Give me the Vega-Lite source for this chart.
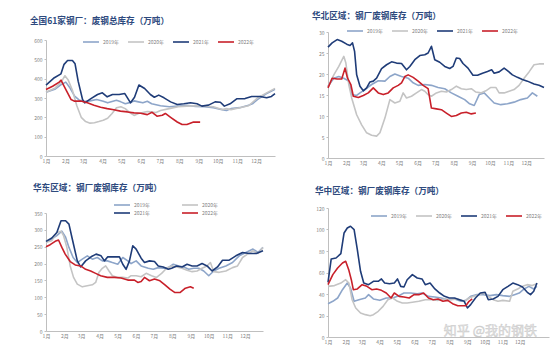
{
  "$schema": "https://vega.github.io/schema/vega-lite/v6.json",
  "padding": {"left": 30, "top": 12, "right": 2, "bottom": 2},
  "config": {
    "font": "Noto Sans CJK SC",
    "view": {"stroke": null},
    "axis": {"grid": false, "labelColor": "#808080", "labelFontSize": 5, "domainColor": "#BFBFBF", "tickColor": "#BFBFBF", "labelPadding": 2, "labelOverlap": false},
    "axisX": {"ticks": false, "labelFlush": false},
    "axisY": {"tickSize": 2},
    "legend": {"symbolType": "M-2,0H2", "labelFontSize": 5, "labelColor": "#808080", "symbolSize": 64, "symbolStrokeWidth": 2.2, "columnPadding": 7, "labelOffset": 7, "padding": 0, "direction": "horizontal", "orient": "none"},
    "title": {"anchor": "start", "frame": "group", "fontSize": 8.6, "fontWeight": "bold", "color": "#2E4A7E", "font": "Noto Sans CJK SC"},
    "line": {"strokeJoin": "round"}
  },
  "datasets": {
    "p1": [
      {"s":"2019年","w":0,"v":330},{"s":"2019年","w":2,"v":345},{"s":"2019年","w":3.5,"v":370},{"s":"2019年","w":4.5,"v":382},{"s":"2019年","w":5.5,"v":350},{"s":"2019年","w":6.5,"v":310},{"s":"2019年","w":7.5,"v":290},{"s":"2019年","w":8.5,"v":282},{"s":"2019年","w":10,"v":285},{"s":"2019年","w":11.5,"v":292},{"s":"2019年","w":13,"v":283},{"s":"2019年","w":14,"v":275},{"s":"2019年","w":15,"v":282},{"s":"2019年","w":16,"v":288},{"s":"2019年","w":17,"v":280},{"s":"2019年","w":18,"v":270},{"s":"2019年","w":19,"v":276},{"s":"2019年","w":20,"v":285},{"s":"2019年","w":21,"v":280},{"s":"2019年","w":22,"v":275},{"s":"2019年","w":23,"v":283},{"s":"2019年","w":24,"v":270},{"s":"2019年","w":25,"v":265},{"s":"2019年","w":26,"v":260},{"s":"2019年","w":28,"v":255},{"s":"2019年","w":30,"v":258},{"s":"2019年","w":32,"v":262},{"s":"2019年","w":34,"v":256},{"s":"2019年","w":36,"v":255},{"s":"2019年","w":38,"v":250},{"s":"2019年","w":40,"v":240},{"s":"2019年","w":41,"v":235},{"s":"2019年","w":42,"v":245},{"s":"2019年","w":44,"v":250},{"s":"2019年","w":46,"v":262},{"s":"2019年","w":47,"v":272},{"s":"2019年","w":48,"v":292},{"s":"2019年","w":50,"v":322},{"s":"2019年","w":52,"v":345},
      {"s":"2020年","w":0,"v":330},{"s":"2020年","w":2,"v":350},{"s":"2020年","w":3.5,"v":385},{"s":"2020年","w":4.3,"v":415},{"s":"2020年","w":5,"v":395},{"s":"2020年","w":6,"v":340},{"s":"2020年","w":7,"v":260},{"s":"2020年","w":8,"v":200},{"s":"2020年","w":9,"v":178},{"s":"2020年","w":10,"v":170},{"s":"2020年","w":11,"v":172},{"s":"2020年","w":12,"v":178},{"s":"2020年","w":13,"v":185},{"s":"2020年","w":14,"v":195},{"s":"2020年","w":15,"v":220},{"s":"2020年","w":16,"v":250},{"s":"2020年","w":17,"v":255},{"s":"2020年","w":18,"v":245},{"s":"2020年","w":19,"v":225},{"s":"2020年","w":20,"v":210},{"s":"2020年","w":21,"v":220},{"s":"2020年","w":22,"v":225},{"s":"2020年","w":23,"v":230},{"s":"2020年","w":24,"v":228},{"s":"2020年","w":25,"v":225},{"s":"2020年","w":26,"v":235},{"s":"2020年","w":28,"v":245},{"s":"2020年","w":30,"v":255},{"s":"2020年","w":32,"v":258},{"s":"2020年","w":34,"v":260},{"s":"2020年","w":36,"v":258},{"s":"2020年","w":38,"v":255},{"s":"2020年","w":40,"v":240},{"s":"2020年","w":41,"v":245},{"s":"2020年","w":42,"v":240},{"s":"2020年","w":44,"v":250},{"s":"2020年","w":46,"v":260},{"s":"2020年","w":48,"v":300},{"s":"2020年","w":50,"v":325},{"s":"2020年","w":52,"v":350},
      {"s":"2021年","w":0,"v":367},{"s":"2021年","w":1.9,"v":405},{"s":"2021年","w":3.4,"v":425},{"s":"2021年","w":4.1,"v":474},{"s":"2021年","w":4.9,"v":494},{"s":"2021年","w":6,"v":494},{"s":"2021年","w":6.6,"v":477},{"s":"2021年","w":7.3,"v":387},{"s":"2021年","w":8.3,"v":292},{"s":"2021年","w":8.8,"v":275},{"s":"2021年","w":10.2,"v":297},{"s":"2021年","w":11.7,"v":318},{"s":"2021年","w":12.8,"v":327},{"s":"2021年","w":13.9,"v":306},{"s":"2021年","w":15.1,"v":318},{"s":"2021年","w":16.6,"v":318},{"s":"2021年","w":17.9,"v":323},{"s":"2021年","w":19.2,"v":275},{"s":"2021年","w":20.1,"v":304},{"s":"2021年","w":21.1,"v":367},{"s":"2021年","w":22.4,"v":349},{"s":"2021年","w":23.7,"v":318},{"s":"2021年","w":24.6,"v":304},{"s":"2021年","w":25.6,"v":315},{"s":"2021年","w":26.8,"v":301},{"s":"2021年","w":28.3,"v":280},{"s":"2021年","w":29.8,"v":266},{"s":"2021年","w":31.3,"v":270},{"s":"2021年","w":32.8,"v":275},{"s":"2021年","w":34.3,"v":270},{"s":"2021年","w":35.4,"v":258},{"s":"2021年","w":36.9,"v":263},{"s":"2021年","w":38.4,"v":280},{"s":"2021年","w":39.6,"v":278},{"s":"2021年","w":40.5,"v":258},{"s":"2021年","w":41.8,"v":270},{"s":"2021年","w":43.3,"v":296},{"s":"2021年","w":45.2,"v":297},{"s":"2021年","w":46.7,"v":308},{"s":"2021年","w":48.6,"v":308},{"s":"2021年","w":50.1,"v":301},{"s":"2021年","w":51.2,"v":308},{"s":"2021年","w":52,"v":323},
      {"s":"2022年","w":0,"v":344},{"s":"2022年","w":1.5,"v":361},{"s":"2022年","w":3,"v":382},{"s":"2022年","w":3.4,"v":392},{"s":"2022年","w":4.1,"v":361},{"s":"2022年","w":4.9,"v":327},{"s":"2022年","w":5.7,"v":292},{"s":"2022年","w":6.4,"v":284},{"s":"2022年","w":7.9,"v":284},{"s":"2022年","w":9.4,"v":275},{"s":"2022年","w":10.9,"v":263},{"s":"2022年","w":12.4,"v":252},{"s":"2022年","w":13.9,"v":245},{"s":"2022年","w":15.4,"v":239},{"s":"2022年","w":16.9,"v":232},{"s":"2022年","w":18.5,"v":228},{"s":"2022年","w":20,"v":223},{"s":"2022年","w":21.5,"v":221},{"s":"2022年","w":23,"v":214},{"s":"2022年","w":24.1,"v":226},{"s":"2022年","w":25.2,"v":206},{"s":"2022年","w":26.4,"v":211},{"s":"2022年","w":27.1,"v":220},{"s":"2022年","w":28.3,"v":200},{"s":"2022年","w":29.8,"v":176},{"s":"2022年","w":30.9,"v":163},{"s":"2022年","w":32,"v":163},{"s":"2022年","w":33.5,"v":176},{"s":"2022年","w":35,"v":175}
    ],
    "p2": [
      {"s":"2019年","w":0,"v":17.1},{"s":"2019年","w":1.4,"v":19},{"s":"2019年","w":2.6,"v":19.4},{"s":"2019年","w":3.8,"v":19},{"s":"2019年","w":5,"v":18.3},{"s":"2019年","w":5.7,"v":15.1},{"s":"2019年","w":6.9,"v":14.9},{"s":"2019年","w":7.7,"v":15.5},{"s":"2019年","w":8.9,"v":16.3},{"s":"2019年","w":10.5,"v":17.5},{"s":"2019年","w":12.1,"v":18.4},{"s":"2019年","w":13.7,"v":18.3},{"s":"2019年","w":14.9,"v":19.4},{"s":"2019年","w":16.1,"v":20},{"s":"2019年","w":17.7,"v":19.4},{"s":"2019年","w":19.3,"v":19},{"s":"2019年","w":20.5,"v":17.9},{"s":"2019年","w":21.7,"v":17.3},{"s":"2019年","w":23.3,"v":17.5},{"s":"2019年","w":24.9,"v":17.3},{"s":"2019年","w":26.5,"v":16.8},{"s":"2019年","w":28.1,"v":16.5},{"s":"2019年","w":29.7,"v":15.5},{"s":"2019年","w":31.3,"v":14.7},{"s":"2019年","w":32.9,"v":13.9},{"s":"2019年","w":34.1,"v":12.9},{"s":"2019年","w":35.2,"v":12.5},{"s":"2019年","w":36.4,"v":15.1},{"s":"2019年","w":37.6,"v":15.5},{"s":"2019年","w":38.8,"v":14.3},{"s":"2019年","w":40,"v":13.1},{"s":"2019年","w":41.6,"v":12.7},{"s":"2019年","w":43.2,"v":12.9},{"s":"2019年","w":44.8,"v":13.3},{"s":"2019年","w":46.4,"v":13.9},{"s":"2019年","w":48,"v":14.3},{"s":"2019年","w":49.2,"v":15.5},{"s":"2019年","w":50.4,"v":14.7},
      {"s":"2020年","w":0,"v":16.8},{"s":"2020年","w":1.4,"v":19.8},{"s":"2020年","w":2.6,"v":21.8},{"s":"2020年","w":3.8,"v":24.2},{"s":"2020年","w":4.3,"v":22.6},{"s":"2020年","w":5,"v":17.5},{"s":"2020年","w":5.7,"v":14.3},{"s":"2020年","w":6.9,"v":10.3},{"s":"2020年","w":8.1,"v":7.9},{"s":"2020年","w":9.3,"v":6},{"s":"2020年","w":10.5,"v":5.4},{"s":"2020年","w":11.7,"v":5.2},{"s":"2020年","w":12.5,"v":6},{"s":"2020年","w":13.7,"v":9.5},{"s":"2020年","w":14.9,"v":13.9},{"s":"2020年","w":16.1,"v":13.1},{"s":"2020年","w":17.3,"v":13.5},{"s":"2020年","w":18.1,"v":15.5},{"s":"2020年","w":18.9,"v":14.3},{"s":"2020年","w":20.1,"v":14.7},{"s":"2020年","w":21.3,"v":15.5},{"s":"2020年","w":22.5,"v":16.3},{"s":"2020年","w":23.3,"v":15.9},{"s":"2020年","w":24.1,"v":15.1},{"s":"2020年","w":24.9,"v":14.7},{"s":"2020年","w":26.1,"v":15.5},{"s":"2020年","w":27.3,"v":15.9},{"s":"2020年","w":28.5,"v":15.7},{"s":"2020年","w":29.7,"v":16.3},{"s":"2020年","w":30.9,"v":17.1},{"s":"2020年","w":32.1,"v":16.5},{"s":"2020年","w":33.3,"v":16.3},{"s":"2020年","w":34.5,"v":16.5},{"s":"2020年","w":35.6,"v":15.7},{"s":"2020年","w":36.8,"v":15.5},{"s":"2020年","w":38,"v":16},{"s":"2020年","w":39.2,"v":16.8},{"s":"2020年","w":40.4,"v":16.8},{"s":"2020年","w":41.2,"v":15.5},{"s":"2020年","w":42.4,"v":15.5},{"s":"2020年","w":43.6,"v":15.9},{"s":"2020年","w":44.8,"v":16.3},{"s":"2020年","w":46,"v":17.3},{"s":"2020年","w":47.2,"v":19},{"s":"2020年","w":48.4,"v":20.5},{"s":"2020年","w":49.6,"v":22.2},{"s":"2020年","w":50.8,"v":22.4},{"s":"2020年","w":52,"v":22.4},
      {"s":"2021年","w":0,"v":26.4},{"s":"2021年","w":1,"v":27.4},{"s":"2021年","w":2.2,"v":28.2},{"s":"2021年","w":3.3,"v":27.8},{"s":"2021年","w":4.5,"v":27.1},{"s":"2021年","w":5.3,"v":26.8},{"s":"2021年","w":5.9,"v":27.4},{"s":"2021年","w":6.4,"v":25.4},{"s":"2021年","w":6.9,"v":19.8},{"s":"2021年","w":7.7,"v":17.1},{"s":"2021年","w":8.5,"v":16},{"s":"2021年","w":9.3,"v":16.7},{"s":"2021年","w":10.1,"v":18.1},{"s":"2021年","w":10.9,"v":18.3},{"s":"2021年","w":11.7,"v":19},{"s":"2021年","w":12.9,"v":21.3},{"s":"2021年","w":14.1,"v":22.2},{"s":"2021年","w":15.3,"v":22.9},{"s":"2021年","w":16.5,"v":22.6},{"s":"2021年","w":17.7,"v":22.5},{"s":"2021年","w":18.9,"v":21},{"s":"2021年","w":19.7,"v":21.8},{"s":"2021年","w":20.9,"v":23.4},{"s":"2021年","w":22.1,"v":24.4},{"s":"2021年","w":23.3,"v":24.6},{"s":"2021年","w":24.1,"v":25},{"s":"2021年","w":24.9,"v":26.6},{"s":"2021年","w":25.7,"v":23.4},{"s":"2021年","w":26.9,"v":22.8},{"s":"2021年","w":28.1,"v":21.8},{"s":"2021年","w":29.3,"v":21.3},{"s":"2021年","w":30.1,"v":21.8},{"s":"2021年","w":30.9,"v":23.8},{"s":"2021年","w":31.7,"v":23.7},{"s":"2021年","w":32.5,"v":22.5},{"s":"2021年","w":33.7,"v":21.4},{"s":"2021年","w":34.9,"v":19.7},{"s":"2021年","w":36,"v":19.7},{"s":"2021年","w":37.2,"v":20.2},{"s":"2021年","w":38.4,"v":20.6},{"s":"2021年","w":39.4,"v":21},{"s":"2021年","w":40,"v":20.2},{"s":"2021年","w":41.2,"v":20.5},{"s":"2021年","w":42.4,"v":21.4},{"s":"2021年","w":43.2,"v":20.8},{"s":"2021年","w":44.4,"v":19.8},{"s":"2021年","w":45.6,"v":19.2},{"s":"2021年","w":46.8,"v":18.7},{"s":"2021年","w":48,"v":18.3},{"s":"2021年","w":49.6,"v":17.6},{"s":"2021年","w":50.8,"v":17.3},{"s":"2021年","w":52,"v":16.8},
      {"s":"2022年","w":0,"v":16.7},{"s":"2022年","w":1,"v":19},{"s":"2022年","w":2.2,"v":18.8},{"s":"2022年","w":3.3,"v":18.8},{"s":"2022年","w":4.1,"v":21.4},{"s":"2022年","w":4.7,"v":19},{"s":"2022年","w":5.5,"v":17.5},{"s":"2022年","w":6.1,"v":14.7},{"s":"2022年","w":7.3,"v":14.4},{"s":"2022年","w":8.5,"v":14.9},{"s":"2022年","w":9.7,"v":15.5},{"s":"2022年","w":10.9,"v":16.7},{"s":"2022年","w":12.1,"v":15.5},{"s":"2022年","w":13.3,"v":15.1},{"s":"2022年","w":14.5,"v":15.5},{"s":"2022年","w":15.7,"v":16.7},{"s":"2022年","w":16.9,"v":17.3},{"s":"2022年","w":17.7,"v":17.9},{"s":"2022年","w":18.5,"v":19.4},{"s":"2022年","w":19.3,"v":19.8},{"s":"2022年","w":20.5,"v":19.2},{"s":"2022年","w":21.7,"v":18.3},{"s":"2022年","w":22.9,"v":17.3},{"s":"2022年","w":24.1,"v":16.5},{"s":"2022年","w":24.9,"v":11.9},{"s":"2022年","w":26.1,"v":11.7},{"s":"2022年","w":27.3,"v":11.5},{"s":"2022年","w":28.5,"v":10.7},{"s":"2022年","w":29.7,"v":9.9},{"s":"2022年","w":30.9,"v":10.1},{"s":"2022年","w":32.1,"v":10.7},{"s":"2022年","w":33.3,"v":10.9},{"s":"2022年","w":34.5,"v":10.5},{"s":"2022年","w":35.6,"v":10.7}
    ],
    "p3": [
      {"s":"2019年","w":0,"v":263},{"s":"2019年","w":1.4,"v":273},{"s":"2019年","w":2.6,"v":283},{"s":"2019年","w":3.8,"v":296},{"s":"2019年","w":4.7,"v":278},{"s":"2019年","w":5.5,"v":248},{"s":"2019年","w":6.5,"v":218},{"s":"2019年","w":7.5,"v":203},{"s":"2019年","w":8.7,"v":213},{"s":"2019年","w":9.9,"v":223},{"s":"2019年","w":11.1,"v":213},{"s":"2019年","w":12.3,"v":218},{"s":"2019年","w":13.5,"v":208},{"s":"2019年","w":14.7,"v":208},{"s":"2019年","w":15.9,"v":203},{"s":"2019年","w":17.2,"v":198},{"s":"2019年","w":18.4,"v":218},{"s":"2019年","w":19.6,"v":208},{"s":"2019年","w":20.4,"v":200},{"s":"2019年","w":21.6,"v":208},{"s":"2019年","w":22.8,"v":193},{"s":"2019年","w":24.5,"v":186},{"s":"2019年","w":25.7,"v":183},{"s":"2019年","w":26.9,"v":188},{"s":"2019年","w":28.1,"v":186},{"s":"2019年","w":29.3,"v":188},{"s":"2019年","w":30.5,"v":198},{"s":"2019年","w":31.8,"v":193},{"s":"2019年","w":33,"v":190},{"s":"2019年","w":34.2,"v":183},{"s":"2019年","w":35.4,"v":186},{"s":"2019年","w":36.6,"v":186},{"s":"2019年","w":37.8,"v":178},{"s":"2019年","w":39,"v":164},{"s":"2019年","w":40.2,"v":178},{"s":"2019年","w":41.5,"v":186},{"s":"2019年","w":43.1,"v":193},{"s":"2019年","w":44.7,"v":203},{"s":"2019年","w":46.3,"v":223},{"s":"2019年","w":47.9,"v":233},{"s":"2019年","w":49.6,"v":243},{"s":"2019年","w":50.8,"v":233},{"s":"2019年","w":52,"v":248},
      {"s":"2020年","w":0,"v":263},{"s":"2020年","w":1.4,"v":268},{"s":"2020年","w":2.6,"v":292},{"s":"2020年","w":3.6,"v":296},{"s":"2020年","w":4.2,"v":283},{"s":"2020年","w":5,"v":248},{"s":"2020年","w":5.8,"v":193},{"s":"2020年","w":6.6,"v":159},{"s":"2020年","w":7.5,"v":139},{"s":"2020年","w":8.7,"v":131},{"s":"2020年","w":9.9,"v":134},{"s":"2020年","w":11.1,"v":137},{"s":"2020年","w":11.9,"v":144},{"s":"2020年","w":12.7,"v":174},{"s":"2020年","w":13.5,"v":186},{"s":"2020年","w":14.3,"v":193},{"s":"2020年","w":15.1,"v":178},{"s":"2020年","w":15.9,"v":164},{"s":"2020年","w":17.2,"v":159},{"s":"2020年","w":18.4,"v":159},{"s":"2020年","w":19.6,"v":157},{"s":"2020年","w":20.4,"v":164},{"s":"2020年","w":21.6,"v":164},{"s":"2020年","w":22.8,"v":161},{"s":"2020年","w":24,"v":171},{"s":"2020年","w":25.3,"v":164},{"s":"2020年","w":26.5,"v":159},{"s":"2020年","w":27.7,"v":171},{"s":"2020年","w":28.9,"v":186},{"s":"2020年","w":30.1,"v":193},{"s":"2020年","w":31.3,"v":190},{"s":"2020年","w":32.6,"v":186},{"s":"2020年","w":33.8,"v":180},{"s":"2020年","w":35,"v":176},{"s":"2020年","w":36.2,"v":178},{"s":"2020年","w":37.4,"v":186},{"s":"2020年","w":38.6,"v":193},{"s":"2020年","w":39.4,"v":203},{"s":"2020年","w":40.2,"v":176},{"s":"2020年","w":41.5,"v":174},{"s":"2020年","w":43.1,"v":178},{"s":"2020年","w":44.7,"v":188},{"s":"2020年","w":45.9,"v":193},{"s":"2020年","w":47.1,"v":218},{"s":"2020年","w":48.3,"v":228},{"s":"2020年","w":49.6,"v":238},{"s":"2020年","w":50.8,"v":230},{"s":"2020年","w":52,"v":248},
      {"s":"2021年","w":0,"v":266},{"s":"2021年","w":1.4,"v":276},{"s":"2021年","w":2.6,"v":292},{"s":"2021年","w":3.6,"v":327},{"s":"2021年","w":4.7,"v":327},{"s":"2021年","w":5.5,"v":317},{"s":"2021年","w":6.3,"v":273},{"s":"2021年","w":7.5,"v":208},{"s":"2021年","w":8.3,"v":190},{"s":"2021年","w":9.5,"v":208},{"s":"2021年","w":10.8,"v":220},{"s":"2021年","w":12,"v":228},{"s":"2021年","w":13.2,"v":223},{"s":"2021年","w":14,"v":208},{"s":"2021年","w":14.8,"v":220},{"s":"2021年","w":16.4,"v":220},{"s":"2021年","w":17.6,"v":220},{"s":"2021年","w":18.4,"v":198},{"s":"2021年","w":19.2,"v":183},{"s":"2021年","w":20,"v":208},{"s":"2021年","w":20.8,"v":253},{"s":"2021年","w":21.6,"v":243},{"s":"2021年","w":22.8,"v":216},{"s":"2021年","w":23.6,"v":203},{"s":"2021年","w":24.8,"v":208},{"s":"2021年","w":26,"v":206},{"s":"2021年","w":26.9,"v":193},{"s":"2021年","w":28.1,"v":190},{"s":"2021年","w":29.3,"v":183},{"s":"2021年","w":30.1,"v":186},{"s":"2021年","w":31.3,"v":193},{"s":"2021年","w":32.6,"v":190},{"s":"2021年","w":33.8,"v":198},{"s":"2021年","w":35,"v":193},{"s":"2021年","w":36.2,"v":193},{"s":"2021年","w":37.4,"v":200},{"s":"2021年","w":38.6,"v":193},{"s":"2021年","w":39.8,"v":178},{"s":"2021年","w":41.1,"v":190},{"s":"2021年","w":42.3,"v":210},{"s":"2021年","w":43.9,"v":210},{"s":"2021年","w":45.5,"v":223},{"s":"2021年","w":47.1,"v":233},{"s":"2021年","w":48.7,"v":230},{"s":"2021年","w":50.4,"v":230},{"s":"2021年","w":52,"v":238},
      {"s":"2022年","w":0,"v":250},{"s":"2022年","w":1,"v":256},{"s":"2022年","w":2.2,"v":266},{"s":"2022年","w":3,"v":270},{"s":"2022年","w":3.8,"v":248},{"s":"2022年","w":4.6,"v":228},{"s":"2022年","w":5.8,"v":206},{"s":"2022年","w":7,"v":196},{"s":"2022年","w":8.3,"v":193},{"s":"2022年","w":9.5,"v":183},{"s":"2022年","w":10.7,"v":178},{"s":"2022年","w":11.9,"v":171},{"s":"2022年","w":13.1,"v":164},{"s":"2022年","w":14.7,"v":159},{"s":"2022年","w":16.4,"v":159},{"s":"2022年","w":18,"v":157},{"s":"2022年","w":19.6,"v":151},{"s":"2022年","w":21.2,"v":151},{"s":"2022年","w":22,"v":144},{"s":"2022年","w":22.8,"v":147},{"s":"2022年","w":23.6,"v":159},{"s":"2022年","w":24.8,"v":149},{"s":"2022年","w":26,"v":154},{"s":"2022年","w":27.3,"v":149},{"s":"2022年","w":28.5,"v":137},{"s":"2022年","w":29.7,"v":124},{"s":"2022年","w":30.9,"v":114},{"s":"2022年","w":32.1,"v":114},{"s":"2022年","w":33.4,"v":127},{"s":"2022年","w":34.6,"v":131},{"s":"2022年","w":35.4,"v":127}
    ],
    "p4": [
      {"s":"2019年","w":0,"v":31},{"s":"2019年","w":1.2,"v":33.2},{"s":"2019年","w":2.4,"v":36.3},{"s":"2019年","w":3.6,"v":44},{"s":"2019年","w":4.8,"v":50.2},{"s":"2019年","w":5.6,"v":45.6},{"s":"2019年","w":6.5,"v":33.2},{"s":"2019年","w":7.7,"v":34.7},{"s":"2019年","w":9.3,"v":36.3},{"s":"2019年","w":10.1,"v":39.4},{"s":"2019年","w":11.3,"v":35.4},{"s":"2019年","w":12.9,"v":34.1},{"s":"2019年","w":14.5,"v":36.3},{"s":"2019年","w":16.1,"v":36.3},{"s":"2019年","w":17.3,"v":37.8},{"s":"2019年","w":18.9,"v":40.9},{"s":"2019年","w":20.6,"v":40.9},{"s":"2019年","w":22.2,"v":40.3},{"s":"2019年","w":23.4,"v":40.9},{"s":"2019年","w":25,"v":37.8},{"s":"2019年","w":26.6,"v":37.2},{"s":"2019年","w":28.2,"v":36.3},{"s":"2019年","w":29.8,"v":34.7},{"s":"2019年","w":31.5,"v":35.4},{"s":"2019年","w":33.1,"v":33.2},{"s":"2019年","w":34.3,"v":34.1},{"s":"2019年","w":35.5,"v":37.8},{"s":"2019年","w":37.1,"v":39.4},{"s":"2019年","w":38.7,"v":39.4},{"s":"2019年","w":40.3,"v":38.5},{"s":"2019年","w":41.9,"v":39.4},{"s":"2019年","w":43.5,"v":38.5},{"s":"2019年","w":45.2,"v":37.8},{"s":"2019年","w":46.4,"v":39.4},{"s":"2019年","w":47.6,"v":40.9},{"s":"2019年","w":48.8,"v":44.7},{"s":"2019年","w":50,"v":47.1},{"s":"2019年","w":51.2,"v":44.7},{"s":"2019年","w":52,"v":47.1},
      {"s":"2020年","w":0,"v":47.1},{"s":"2020年","w":1.6,"v":47.8},{"s":"2020年","w":3.2,"v":50.2},{"s":"2020年","w":4.4,"v":53.3},{"s":"2020年","w":5.2,"v":50.2},{"s":"2020年","w":6,"v":34.7},{"s":"2020年","w":6.9,"v":27},{"s":"2020年","w":8.1,"v":22.3},{"s":"2020年","w":9.3,"v":20.8},{"s":"2020年","w":10.5,"v":19.8},{"s":"2020年","w":11.3,"v":20.8},{"s":"2020年","w":12.5,"v":23.9},{"s":"2020年","w":13.7,"v":28.5},{"s":"2020年","w":14.9,"v":34.7},{"s":"2020年","w":16.1,"v":36.3},{"s":"2020年","w":17.3,"v":33.2},{"s":"2020年","w":18.5,"v":31.6},{"s":"2020年","w":19.7,"v":31.6},{"s":"2020年","w":21,"v":32.3},{"s":"2020年","w":22.6,"v":33.2},{"s":"2020年","w":24.2,"v":34.7},{"s":"2020年","w":25.8,"v":34.7},{"s":"2020年","w":27.4,"v":34.1},{"s":"2020年","w":29,"v":35.4},{"s":"2020年","w":30.6,"v":34.7},{"s":"2020年","w":32.3,"v":35.4},{"s":"2020年","w":33.9,"v":33.2},{"s":"2020年","w":35.1,"v":36.3},{"s":"2020年","w":36.3,"v":37.8},{"s":"2020年","w":37.5,"v":39.4},{"s":"2020年","w":38.7,"v":40.9},{"s":"2020年","w":39.9,"v":37.8},{"s":"2020年","w":41.1,"v":34.7},{"s":"2020年","w":42.3,"v":33.2},{"s":"2020年","w":43.5,"v":34.1},{"s":"2020年","w":45.2,"v":33.2},{"s":"2020年","w":46,"v":42.5},{"s":"2020年","w":47.2,"v":44.7},{"s":"2020年","w":48.4,"v":47.1},{"s":"2020年","w":49.6,"v":48.7},{"s":"2020年","w":50.8,"v":47.8},{"s":"2020年","w":52,"v":49.6},
      {"s":"2021年","w":0,"v":50.9},{"s":"2021年","w":0.8,"v":72.6},{"s":"2021年","w":2,"v":73.5},{"s":"2021年","w":3.2,"v":77.5},{"s":"2021年","w":4,"v":96.8},{"s":"2021年","w":4.8,"v":101.4},{"s":"2021年","w":5.6,"v":103},{"s":"2021年","w":6.5,"v":99.9},{"s":"2021年","w":7.3,"v":81.2},{"s":"2021年","w":8.1,"v":61.1},{"s":"2021年","w":8.9,"v":50.2},{"s":"2021年","w":10.1,"v":48.7},{"s":"2021年","w":11.3,"v":51.8},{"s":"2021年","w":12.5,"v":51.8},{"s":"2021年","w":13.3,"v":54},{"s":"2021年","w":14.1,"v":50.2},{"s":"2021年","w":15.3,"v":49.6},{"s":"2021年","w":16.5,"v":50.2},{"s":"2021年","w":17.3,"v":54},{"s":"2021年","w":18.1,"v":47.1},{"s":"2021年","w":18.9,"v":46.5},{"s":"2021年","w":19.7,"v":53.3},{"s":"2021年","w":21,"v":58},{"s":"2021年","w":22.2,"v":54.9},{"s":"2021年","w":23.4,"v":54},{"s":"2021年","w":24.2,"v":48.7},{"s":"2021年","w":25.4,"v":50.2},{"s":"2021年","w":26.6,"v":44.7},{"s":"2021年","w":27.8,"v":40.9},{"s":"2021年","w":29,"v":37.8},{"s":"2021年","w":30.2,"v":36.3},{"s":"2021年","w":31.5,"v":36.3},{"s":"2021年","w":32.7,"v":34.7},{"s":"2021年","w":33.9,"v":33.2},{"s":"2021年","w":34.7,"v":27},{"s":"2021年","w":35.5,"v":30.1},{"s":"2021年","w":36.7,"v":36.3},{"s":"2021年","w":37.9,"v":40.9},{"s":"2021年","w":39.1,"v":41.6},{"s":"2021年","w":39.9,"v":34.7},{"s":"2021年","w":41.1,"v":35.4},{"s":"2021年","w":42.3,"v":37.8},{"s":"2021年","w":43.5,"v":44},{"s":"2021年","w":44.8,"v":47.1},{"s":"2021年","w":46,"v":50.2},{"s":"2021年","w":47.2,"v":48.7},{"s":"2021年","w":48.4,"v":46.5},{"s":"2021年","w":49.6,"v":41.6},{"s":"2021年","w":50.4,"v":39.4},{"s":"2021年","w":51.2,"v":42.5},{"s":"2021年","w":52,"v":50.2},
      {"s":"2022年","w":0,"v":48.7},{"s":"2022年","w":1.2,"v":58},{"s":"2022年","w":2.4,"v":64.2},{"s":"2022年","w":3.6,"v":68.8},{"s":"2022年","w":4.4,"v":70.4},{"s":"2022年","w":5.2,"v":62},{"s":"2022年","w":5.8,"v":53.3},{"s":"2022年","w":6.3,"v":44},{"s":"2022年","w":7.3,"v":44.7},{"s":"2022年","w":8.5,"v":48.7},{"s":"2022年","w":9.7,"v":47.1},{"s":"2022年","w":10.9,"v":44},{"s":"2022年","w":12.1,"v":44.7},{"s":"2022年","w":13.3,"v":43.4},{"s":"2022年","w":14.5,"v":40.9},{"s":"2022年","w":15.7,"v":36.3},{"s":"2022年","w":16.5,"v":40.9},{"s":"2022年","w":17.7,"v":37.8},{"s":"2022年","w":18.9,"v":37.2},{"s":"2022年","w":20.2,"v":36.3},{"s":"2022年","w":21.4,"v":39.4},{"s":"2022年","w":22.6,"v":39.4},{"s":"2022年","w":23.8,"v":40.9},{"s":"2022年","w":25,"v":36.3},{"s":"2022年","w":26.2,"v":34.7},{"s":"2022年","w":27.4,"v":35.4},{"s":"2022年","w":28.6,"v":33.2},{"s":"2022年","w":29.8,"v":34.1},{"s":"2022年","w":31,"v":31},{"s":"2022年","w":32.3,"v":29.1},{"s":"2022年","w":33.5,"v":29.1},{"s":"2022年","w":34.3,"v":29.1},{"s":"2022年","w":35.1,"v":33.2},{"s":"2022年","w":35.9,"v":35.4}
    ]
  },
  "align": "none",
  "spacing": 36,
  "resolve": {"scale": {"color": "independent", "strokeWidth": "independent"}, "legend": {"color": "independent", "strokeWidth": "independent"}},
  "hconcat": [
    {
      "spacing": 21,
      "resolve": {"scale": {"color": "independent", "strokeWidth": "independent"}, "legend": {"color": "independent", "strokeWidth": "independent"}},
      "vconcat": [
        {
          "width": 229, "height": 124,
          "title": {"text": "全国61家钢厂：废钢总库存（万吨）", "offset": 6, "dx": -16},
          "data": {"name": "p1"},
          "mark": {"type": "line"},
          "encoding": {
            "x": {"field": "w", "type": "quantitative", "title": null, "scale": {"domain": [0, 52]}, "axis": {"values": [0, 4.43, 8.43, 12.86, 17.14, 21.57, 25.86, 30.29, 34.71, 39, 43.43, 47.71], "labelExpr": "(indexof([0,4,8,13,17,22,26,30,35,39,43,48], round(datum.value)) + 1) + '月'"}},
            "y": {"field": "v", "type": "quantitative", "title": null, "scale": {"domain": [0, 600], "range": [124, 8]}, "axis": {"values": [0, 100, 200, 300, 400, 500, 600]}},
            "color": {"field": "s", "type": "nominal", "title": null, "scale": {"domain": ["2019年", "2020年", "2021年", "2022年"], "range": ["#8DA5C9", "#C4C4C4", "#1F3C78", "#C8202A"]}, "legend": {"legendX": 40, "legendY": 5, "columns": 4}},
            "strokeWidth": {"field": "s", "type": "ordinal", "scale": {"domain": ["2019年", "2020年", "2021年", "2022年"], "range": [1.6, 1.6, 2.2, 2.2]}, "legend": null}
          }
        },
        {
          "width": 217, "height": 118,
          "title": {"text": "华东区域：钢厂废钢库存（万吨）", "offset": 7, "dx": -13},
          "data": {"name": "p3"},
          "mark": {"type": "line"},
          "encoding": {
            "x": {"field": "w", "type": "quantitative", "title": null, "scale": {"domain": [0, 52]}, "axis": {"values": [0, 4.43, 8.43, 12.86, 17.14, 21.57, 25.86, 30.29, 34.71, 39, 43.43, 47.71], "labelExpr": "(indexof([0,4,8,13,17,22,26,30,35,39,43,48], round(datum.value)) + 1) + '月'"}},
            "y": {"field": "v", "type": "quantitative", "title": null, "scale": {"domain": [0, 350]}, "axis": {"values": [0, 50, 100, 150, 200, 250, 300, 350]}},
            "color": {"field": "s", "type": "nominal", "title": null, "scale": {"domain": ["2019年", "2020年", "2021年", "2022年"], "range": ["#8DA5C9", "#C4C4C4", "#1F3C78", "#C8202A"]}, "legend": {"legendX": 71, "legendY": -13, "columns": 2, "columnPadding": 30, "rowPadding": -1}},
            "strokeWidth": {"field": "s", "type": "ordinal", "scale": {"domain": ["2019年", "2020年", "2021年", "2022年"], "range": [1.6, 1.6, 2.2, 2.2]}, "legend": null}
          }
        }
      ]
    },
    {
      "spacing": 21,
      "resolve": {"scale": {"color": "independent", "strokeWidth": "independent"}, "legend": {"color": "independent", "strokeWidth": "independent"}},
      "vconcat": [
        {
          "width": 216, "height": 126,
          "title": {"text": "华北区域：钢厂废钢库存（万吨）", "offset": 5, "dx": -16},
          "data": {"name": "p2"},
          "mark": {"type": "line"},
          "encoding": {
            "x": {"field": "w", "type": "quantitative", "title": null, "scale": {"domain": [0, 52]}, "axis": {"values": [0, 4.43, 8.43, 12.86, 17.14, 21.57, 25.86, 30.29, 34.71, 39, 43.43, 47.71], "labelExpr": "(indexof([0,4,8,13,17,22,26,30,35,39,43,48], round(datum.value)) + 1) + '月'"}},
            "y": {"field": "v", "type": "quantitative", "title": null, "scale": {"domain": [0, 30]}, "axis": {"values": [0, 5, 10, 15, 20, 25, 30]}},
            "color": {"field": "s", "type": "nominal", "title": null, "scale": {"domain": ["2019年", "2020年", "2021年", "2022年"], "range": ["#8DA5C9", "#C4C4C4", "#1F3C78", "#C8202A"]}, "legend": {"legendX": 22, "legendY": -6, "columns": 4}},
            "strokeWidth": {"field": "s", "type": "ordinal", "scale": {"domain": ["2019年", "2020年", "2021年", "2022年"], "range": [1.6, 1.6, 2.2, 2.2]}, "legend": null}
          }
        },
        {
          "width": 221, "height": 129,
          "title": {"text": "华中区域：钢厂废钢库存（万吨）", "offset": 10.5, "dx": -13},
          "layer": [
            {
              "data": {"name": "p4"},
              "mark": {"type": "line"},
              "encoding": {
                "x": {"field": "w", "type": "quantitative", "title": null, "scale": {"domain": [0, 52]}, "axis": {"values": [0, 4.43, 8.43, 12.86, 17.14, 21.57, 25.86, 30.29, 34.71, 39, 43.43, 47.71], "labelExpr": "(indexof([0,4,8,13,17,22,26,30,35,39,43,48], round(datum.value)) + 1) + '月'"}},
                "y": {"field": "v", "type": "quantitative", "title": null, "scale": {"domain": [0, 120]}, "axis": {"values": [0, 20, 40, 60, 80, 100, 120]}},
                "color": {"field": "s", "type": "nominal", "title": null, "scale": {"domain": ["2019年", "2020年", "2021年", "2022年"], "range": ["#8DA5C9", "#C4C4C4", "#1F3C78", "#C8202A"]}, "legend": {"legendX": 46, "legendY": 3, "columns": 4}},
                "strokeWidth": {"field": "s", "type": "ordinal", "scale": {"domain": ["2019年", "2020年", "2021年", "2022年"], "range": [1.6, 1.6, 2.2, 2.2]}, "legend": null}
              }
            },
            {
              "data": {"values": [{}]},
              "mark": {"type": "text", "align": "right", "baseline": "middle", "fontSize": 13, "color": "#E4E4E4", "stroke": "#C8C8C8", "strokeWidth": 0.4, "font": "Noto Sans CJK SC"},
              "encoding": {
                "x": {"datum": 52, "type": "quantitative", "axis": {"values": [0, 4.43, 8.43, 12.86, 17.14, 21.57, 25.86, 30.29, 34.71, 39, 43.43, 47.71], "labelExpr": "(indexof([0,4,8,13,17,22,26,30,35,39,43,48], round(datum.value)) + 1) + '月'"}},
                "y": {"datum": 6, "type": "quantitative", "axis": {"values": [0, 20, 40, 60, 80, 100, 120]}},
                "text": {"value": "知乎 @我的钢铁"}
              }
            }
          ]
        }
      ]
    }
  ]
}
